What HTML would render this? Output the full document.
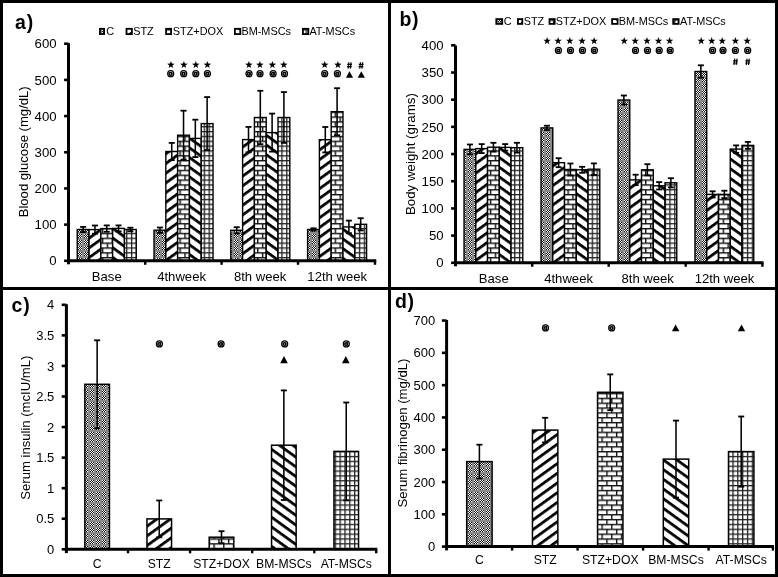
<!DOCTYPE html>
<html><head><meta charset="utf-8"><style>
html,body{margin:0;padding:0;background:#fff;width:778px;height:577px;overflow:hidden;}
svg{display:block;font-family:"Liberation Sans", sans-serif;filter:grayscale(1);}
</style></head><body>
<svg width="778" height="577" viewBox="0 0 778 577" font-family='"Liberation Sans", sans-serif'><defs><pattern id="pC" patternUnits="userSpaceOnUse" width="6" height="6"><rect width="6" height="6" fill="#8a8a8a"/><rect x="0" y="0" width="1" height="1" fill="#fff"/><rect x="1" y="0" width="1" height="1" fill="#111"/><rect x="2" y="0" width="1" height="1" fill="#fff"/><rect x="3" y="0" width="1" height="1" fill="#111"/><rect x="0" y="1" width="1" height="1" fill="#111"/><rect x="1" y="1" width="1" height="1" fill="#fff"/><rect x="2" y="1" width="1" height="1" fill="#111"/><rect x="3" y="1" width="1" height="1" fill="#fff"/><rect x="0" y="2" width="1" height="1" fill="#fff"/><rect x="1" y="2" width="1" height="1" fill="#111"/><rect x="2" y="2" width="1" height="1" fill="#fff"/><rect x="3" y="2" width="1" height="1" fill="#111"/><rect x="0" y="3" width="1" height="1" fill="#111"/><rect x="1" y="3" width="1" height="1" fill="#fff"/><rect x="2" y="3" width="1" height="1" fill="#111"/><rect x="3" y="3" width="1" height="1" fill="#fff"/></pattern><pattern id="pS" patternUnits="userSpaceOnUse" width="20" height="7.87" patternTransform="rotate(-35.75)"><rect width="20" height="7.87" fill="#fff"/><rect y="0" width="20" height="2.76" fill="#000"/></pattern><pattern id="pB" patternUnits="userSpaceOnUse" width="20" height="7.87" patternTransform="rotate(35.75)"><rect width="20" height="7.87" fill="#fff"/><rect y="0" width="20" height="2.76" fill="#000"/></pattern><pattern id="pD" patternUnits="userSpaceOnUse" width="9.7" height="9.7">
<rect width="9.7" height="9.7" fill="#fff"/>
<rect y="0" width="9.7" height="1.4" fill="#111"/>
<rect y="4.85" width="9.7" height="1.4" fill="#111"/>
<rect x="0" y="0" width="1.4" height="4.85" fill="#111"/>
<rect x="4.85" y="4.85" width="1.4" height="4.85" fill="#111"/>
</pattern><pattern id="pA" patternUnits="userSpaceOnUse" width="4.85" height="4.85">
<rect width="4.85" height="4.85" fill="#fff"/>
<rect width="4.85" height="1.3" fill="#222"/>
<rect width="1.3" height="4.85" fill="#222"/>
</pattern></defs><rect x="0" y="0" width="778" height="577" fill="#fff"/>
<line x1="64.1" y1="260.8" x2="68.5" y2="260.8" stroke="#000" stroke-width="2.6"/>
<text x="56.6" y="265.49" font-size="13.2" text-anchor="end" font-weight="normal">0</text>
<line x1="64.1" y1="224.62" x2="68.5" y2="224.62" stroke="#000" stroke-width="2.6"/>
<text x="56.6" y="229.31" font-size="13.2" text-anchor="end" font-weight="normal">100</text>
<line x1="64.1" y1="188.44" x2="68.5" y2="188.44" stroke="#000" stroke-width="2.6"/>
<text x="56.6" y="193.13" font-size="13.2" text-anchor="end" font-weight="normal">200</text>
<line x1="64.1" y1="152.26" x2="68.5" y2="152.26" stroke="#000" stroke-width="2.6"/>
<text x="56.6" y="156.95" font-size="13.2" text-anchor="end" font-weight="normal">300</text>
<line x1="64.1" y1="116.08" x2="68.5" y2="116.08" stroke="#000" stroke-width="2.6"/>
<text x="56.6" y="120.77" font-size="13.2" text-anchor="end" font-weight="normal">400</text>
<line x1="64.1" y1="79.9" x2="68.5" y2="79.9" stroke="#000" stroke-width="2.6"/>
<text x="56.6" y="84.59" font-size="13.2" text-anchor="end" font-weight="normal">500</text>
<line x1="64.1" y1="43.72" x2="68.5" y2="43.72" stroke="#000" stroke-width="2.6"/>
<text x="56.6" y="48.41" font-size="13.2" text-anchor="end" font-weight="normal">600</text>
<rect x="77.25" y="229.5" width="11.8" height="31.3" fill="url(#pC)" stroke="#000" stroke-width="1.4"/>
<rect x="89.05" y="229.6" width="11.8" height="31.2" fill="url(#pS)" stroke="#000" stroke-width="1.4"/>
<rect x="100.85" y="228.6" width="11.8" height="32.2" fill="url(#pD)" stroke="#000" stroke-width="1.4"/>
<rect x="112.65" y="228.4" width="11.8" height="32.4" fill="url(#pB)" stroke="#000" stroke-width="1.4"/>
<rect x="124.45" y="229.5" width="11.8" height="31.3" fill="url(#pA)" stroke="#000" stroke-width="1.4"/>
<line x1="83.15" y1="226.9" x2="83.15" y2="232.1" stroke="#000" stroke-width="1.55"/>
<line x1="80.15" y1="226.9" x2="86.15" y2="226.9" stroke="#000" stroke-width="1.8"/>
<line x1="80.15" y1="232.1" x2="86.15" y2="232.1" stroke="#000" stroke-width="1.8"/>
<line x1="94.95" y1="225.5" x2="94.95" y2="233.7" stroke="#000" stroke-width="1.55"/>
<line x1="91.95" y1="225.5" x2="97.95" y2="225.5" stroke="#000" stroke-width="1.8"/>
<line x1="91.95" y1="233.7" x2="97.95" y2="233.7" stroke="#000" stroke-width="1.8"/>
<line x1="106.75" y1="225.4" x2="106.75" y2="231.8" stroke="#000" stroke-width="1.55"/>
<line x1="103.75" y1="225.4" x2="109.75" y2="225.4" stroke="#000" stroke-width="1.8"/>
<line x1="103.75" y1="231.8" x2="109.75" y2="231.8" stroke="#000" stroke-width="1.8"/>
<line x1="118.55" y1="225.4" x2="118.55" y2="231.4" stroke="#000" stroke-width="1.55"/>
<line x1="115.55" y1="225.4" x2="121.55" y2="225.4" stroke="#000" stroke-width="1.8"/>
<line x1="115.55" y1="231.4" x2="121.55" y2="231.4" stroke="#000" stroke-width="1.8"/>
<line x1="130.35" y1="227.7" x2="130.35" y2="231.3" stroke="#000" stroke-width="1.55"/>
<line x1="127.35" y1="227.7" x2="133.35" y2="227.7" stroke="#000" stroke-width="1.8"/>
<line x1="127.35" y1="231.3" x2="133.35" y2="231.3" stroke="#000" stroke-width="1.8"/>
<rect x="154.03" y="230.2" width="11.8" height="30.6" fill="url(#pC)" stroke="#000" stroke-width="1.4"/>
<rect x="165.83" y="151.5" width="11.8" height="109.3" fill="url(#pS)" stroke="#000" stroke-width="1.4"/>
<rect x="177.63" y="135.2" width="11.8" height="125.6" fill="url(#pD)" stroke="#000" stroke-width="1.4"/>
<rect x="189.43" y="138.4" width="11.8" height="122.4" fill="url(#pB)" stroke="#000" stroke-width="1.4"/>
<rect x="201.23" y="123.6" width="11.8" height="137.2" fill="url(#pA)" stroke="#000" stroke-width="1.4"/>
<line x1="159.93" y1="227.5" x2="159.93" y2="232.9" stroke="#000" stroke-width="1.55"/>
<line x1="156.93" y1="227.5" x2="162.93" y2="227.5" stroke="#000" stroke-width="1.8"/>
<line x1="156.93" y1="232.9" x2="162.93" y2="232.9" stroke="#000" stroke-width="1.8"/>
<line x1="171.73" y1="142.9" x2="171.73" y2="160.1" stroke="#000" stroke-width="1.55"/>
<line x1="168.73" y1="142.9" x2="174.73" y2="142.9" stroke="#000" stroke-width="1.8"/>
<line x1="168.73" y1="160.1" x2="174.73" y2="160.1" stroke="#000" stroke-width="1.8"/>
<line x1="183.53" y1="110.7" x2="183.53" y2="159.7" stroke="#000" stroke-width="1.55"/>
<line x1="180.53" y1="110.7" x2="186.53" y2="110.7" stroke="#000" stroke-width="1.8"/>
<line x1="180.53" y1="159.7" x2="186.53" y2="159.7" stroke="#000" stroke-width="1.8"/>
<line x1="195.33" y1="119.7" x2="195.33" y2="157.1" stroke="#000" stroke-width="1.55"/>
<line x1="192.33" y1="119.7" x2="198.33" y2="119.7" stroke="#000" stroke-width="1.8"/>
<line x1="192.33" y1="157.1" x2="198.33" y2="157.1" stroke="#000" stroke-width="1.8"/>
<line x1="207.13" y1="97.1" x2="207.13" y2="150.1" stroke="#000" stroke-width="1.55"/>
<line x1="204.13" y1="97.1" x2="210.13" y2="97.1" stroke="#000" stroke-width="1.8"/>
<line x1="204.13" y1="150.1" x2="210.13" y2="150.1" stroke="#000" stroke-width="1.8"/>
<rect x="230.81" y="230.3" width="11.8" height="30.5" fill="url(#pC)" stroke="#000" stroke-width="1.4"/>
<rect x="242.61" y="139.6" width="11.8" height="121.2" fill="url(#pS)" stroke="#000" stroke-width="1.4"/>
<rect x="254.41" y="117.5" width="11.8" height="143.3" fill="url(#pD)" stroke="#000" stroke-width="1.4"/>
<rect x="266.21" y="132.6" width="11.8" height="128.2" fill="url(#pB)" stroke="#000" stroke-width="1.4"/>
<rect x="278.01" y="117.5" width="11.8" height="143.3" fill="url(#pA)" stroke="#000" stroke-width="1.4"/>
<line x1="236.71" y1="227.2" x2="236.71" y2="233.4" stroke="#000" stroke-width="1.55"/>
<line x1="233.71" y1="227.2" x2="239.71" y2="227.2" stroke="#000" stroke-width="1.8"/>
<line x1="233.71" y1="233.4" x2="239.71" y2="233.4" stroke="#000" stroke-width="1.8"/>
<line x1="248.51" y1="126.9" x2="248.51" y2="152.3" stroke="#000" stroke-width="1.55"/>
<line x1="245.51" y1="126.9" x2="251.51" y2="126.9" stroke="#000" stroke-width="1.8"/>
<line x1="245.51" y1="152.3" x2="251.51" y2="152.3" stroke="#000" stroke-width="1.8"/>
<line x1="260.31" y1="90.8" x2="260.31" y2="144.2" stroke="#000" stroke-width="1.55"/>
<line x1="257.31" y1="90.8" x2="263.31" y2="90.8" stroke="#000" stroke-width="1.8"/>
<line x1="257.31" y1="144.2" x2="263.31" y2="144.2" stroke="#000" stroke-width="1.8"/>
<line x1="272.11" y1="113.6" x2="272.11" y2="151.6" stroke="#000" stroke-width="1.55"/>
<line x1="269.11" y1="113.6" x2="275.11" y2="113.6" stroke="#000" stroke-width="1.8"/>
<line x1="269.11" y1="151.6" x2="275.11" y2="151.6" stroke="#000" stroke-width="1.8"/>
<line x1="283.91" y1="92.1" x2="283.91" y2="142.9" stroke="#000" stroke-width="1.55"/>
<line x1="280.91" y1="92.1" x2="286.91" y2="92.1" stroke="#000" stroke-width="1.8"/>
<line x1="280.91" y1="142.9" x2="286.91" y2="142.9" stroke="#000" stroke-width="1.8"/>
<rect x="307.59" y="229.5" width="11.8" height="31.3" fill="url(#pC)" stroke="#000" stroke-width="1.4"/>
<rect x="319.39" y="139.7" width="11.8" height="121.1" fill="url(#pS)" stroke="#000" stroke-width="1.4"/>
<rect x="331.19" y="111.7" width="11.8" height="149.1" fill="url(#pD)" stroke="#000" stroke-width="1.4"/>
<rect x="342.99" y="226.9" width="11.8" height="33.9" fill="url(#pB)" stroke="#000" stroke-width="1.4"/>
<rect x="354.79" y="224.3" width="11.8" height="36.5" fill="url(#pA)" stroke="#000" stroke-width="1.4"/>
<line x1="313.49" y1="228.3" x2="313.49" y2="230.7" stroke="#000" stroke-width="1.55"/>
<line x1="310.49" y1="228.3" x2="316.49" y2="228.3" stroke="#000" stroke-width="1.8"/>
<line x1="310.49" y1="230.7" x2="316.49" y2="230.7" stroke="#000" stroke-width="1.8"/>
<line x1="325.29" y1="127" x2="325.29" y2="152.4" stroke="#000" stroke-width="1.55"/>
<line x1="322.29" y1="127" x2="328.29" y2="127" stroke="#000" stroke-width="1.8"/>
<line x1="322.29" y1="152.4" x2="328.29" y2="152.4" stroke="#000" stroke-width="1.8"/>
<line x1="337.09" y1="88.2" x2="337.09" y2="135.2" stroke="#000" stroke-width="1.55"/>
<line x1="334.09" y1="88.2" x2="340.09" y2="88.2" stroke="#000" stroke-width="1.8"/>
<line x1="334.09" y1="135.2" x2="340.09" y2="135.2" stroke="#000" stroke-width="1.8"/>
<line x1="348.89" y1="220.6" x2="348.89" y2="233.2" stroke="#000" stroke-width="1.55"/>
<line x1="345.89" y1="220.6" x2="351.89" y2="220.6" stroke="#000" stroke-width="1.8"/>
<line x1="345.89" y1="233.2" x2="351.89" y2="233.2" stroke="#000" stroke-width="1.8"/>
<line x1="360.69" y1="218.2" x2="360.69" y2="230.4" stroke="#000" stroke-width="1.55"/>
<line x1="357.69" y1="218.2" x2="363.69" y2="218.2" stroke="#000" stroke-width="1.8"/>
<line x1="357.69" y1="230.4" x2="363.69" y2="230.4" stroke="#000" stroke-width="1.8"/>
<line x1="68.5" y1="43.2" x2="68.5" y2="264.3" stroke="#000" stroke-width="3"/>
<line x1="67" y1="260.8" x2="376.3" y2="260.8" stroke="#000" stroke-width="3"/>
<line x1="145.2" y1="260.8" x2="145.2" y2="264.8" stroke="#000" stroke-width="2.4"/>
<line x1="221.6" y1="260.8" x2="221.6" y2="264.8" stroke="#000" stroke-width="2.4"/>
<line x1="298" y1="260.8" x2="298" y2="264.8" stroke="#000" stroke-width="2.4"/>
<line x1="375" y1="260.8" x2="375" y2="264.8" stroke="#000" stroke-width="2.4"/>
<text x="106.8" y="280.9" font-size="13.1" text-anchor="middle" font-weight="normal">Base</text>
<text x="181.6" y="280.9" font-size="13.1" text-anchor="middle" font-weight="normal">4thweek</text>
<text x="260.1" y="280.9" font-size="13.1" text-anchor="middle" font-weight="normal">8th week</text>
<text x="337.2" y="280.9" font-size="13.1" text-anchor="middle" font-weight="normal">12th week</text>
<line x1="451.1" y1="262.8" x2="455.5" y2="262.8" stroke="#000" stroke-width="2.6"/>
<text x="443.6" y="267.49" font-size="13.2" text-anchor="end" font-weight="normal">0</text>
<line x1="451.1" y1="235.62" x2="455.5" y2="235.62" stroke="#000" stroke-width="2.6"/>
<text x="443.6" y="240.3" font-size="13.2" text-anchor="end" font-weight="normal">50</text>
<line x1="451.1" y1="208.43" x2="455.5" y2="208.43" stroke="#000" stroke-width="2.6"/>
<text x="443.6" y="213.12" font-size="13.2" text-anchor="end" font-weight="normal">100</text>
<line x1="451.1" y1="181.25" x2="455.5" y2="181.25" stroke="#000" stroke-width="2.6"/>
<text x="443.6" y="185.93" font-size="13.2" text-anchor="end" font-weight="normal">150</text>
<line x1="451.1" y1="154.06" x2="455.5" y2="154.06" stroke="#000" stroke-width="2.6"/>
<text x="443.6" y="158.75" font-size="13.2" text-anchor="end" font-weight="normal">200</text>
<line x1="451.1" y1="126.88" x2="455.5" y2="126.88" stroke="#000" stroke-width="2.6"/>
<text x="443.6" y="131.56" font-size="13.2" text-anchor="end" font-weight="normal">250</text>
<line x1="451.1" y1="99.69" x2="455.5" y2="99.69" stroke="#000" stroke-width="2.6"/>
<text x="443.6" y="104.38" font-size="13.2" text-anchor="end" font-weight="normal">300</text>
<line x1="451.1" y1="72.51" x2="455.5" y2="72.51" stroke="#000" stroke-width="2.6"/>
<text x="443.6" y="77.19" font-size="13.2" text-anchor="end" font-weight="normal">350</text>
<line x1="451.1" y1="45.32" x2="455.5" y2="45.32" stroke="#000" stroke-width="2.6"/>
<text x="443.6" y="50.01" font-size="13.2" text-anchor="end" font-weight="normal">400</text>
<rect x="464.05" y="149.4" width="11.75" height="113.4" fill="url(#pC)" stroke="#000" stroke-width="1.4"/>
<rect x="475.8" y="148.6" width="11.75" height="114.2" fill="url(#pS)" stroke="#000" stroke-width="1.4"/>
<rect x="487.55" y="147.2" width="11.75" height="115.6" fill="url(#pD)" stroke="#000" stroke-width="1.4"/>
<rect x="499.3" y="147.4" width="11.75" height="115.4" fill="url(#pB)" stroke="#000" stroke-width="1.4"/>
<rect x="511.05" y="147.7" width="11.75" height="115.1" fill="url(#pA)" stroke="#000" stroke-width="1.4"/>
<line x1="469.93" y1="144.5" x2="469.93" y2="154.3" stroke="#000" stroke-width="1.55"/>
<line x1="466.93" y1="144.5" x2="472.93" y2="144.5" stroke="#000" stroke-width="1.8"/>
<line x1="466.93" y1="154.3" x2="472.93" y2="154.3" stroke="#000" stroke-width="1.8"/>
<line x1="481.68" y1="144.1" x2="481.68" y2="153.1" stroke="#000" stroke-width="1.55"/>
<line x1="478.68" y1="144.1" x2="484.68" y2="144.1" stroke="#000" stroke-width="1.8"/>
<line x1="478.68" y1="153.1" x2="484.68" y2="153.1" stroke="#000" stroke-width="1.8"/>
<line x1="493.43" y1="142.8" x2="493.43" y2="151.6" stroke="#000" stroke-width="1.55"/>
<line x1="490.43" y1="142.8" x2="496.43" y2="142.8" stroke="#000" stroke-width="1.8"/>
<line x1="490.43" y1="151.6" x2="496.43" y2="151.6" stroke="#000" stroke-width="1.8"/>
<line x1="505.18" y1="144.1" x2="505.18" y2="150.7" stroke="#000" stroke-width="1.55"/>
<line x1="502.18" y1="144.1" x2="508.18" y2="144.1" stroke="#000" stroke-width="1.8"/>
<line x1="502.18" y1="150.7" x2="508.18" y2="150.7" stroke="#000" stroke-width="1.8"/>
<line x1="516.92" y1="142.8" x2="516.92" y2="152.6" stroke="#000" stroke-width="1.55"/>
<line x1="513.92" y1="142.8" x2="519.92" y2="142.8" stroke="#000" stroke-width="1.8"/>
<line x1="513.92" y1="152.6" x2="519.92" y2="152.6" stroke="#000" stroke-width="1.8"/>
<rect x="541.03" y="127.9" width="11.75" height="134.9" fill="url(#pC)" stroke="#000" stroke-width="1.4"/>
<rect x="552.78" y="162.7" width="11.75" height="100.1" fill="url(#pS)" stroke="#000" stroke-width="1.4"/>
<rect x="564.53" y="169.5" width="11.75" height="93.3" fill="url(#pD)" stroke="#000" stroke-width="1.4"/>
<rect x="576.28" y="169.8" width="11.75" height="93" fill="url(#pB)" stroke="#000" stroke-width="1.4"/>
<rect x="588.03" y="169.2" width="11.75" height="93.6" fill="url(#pA)" stroke="#000" stroke-width="1.4"/>
<line x1="546.9" y1="125.7" x2="546.9" y2="130.1" stroke="#000" stroke-width="1.55"/>
<line x1="543.9" y1="125.7" x2="549.9" y2="125.7" stroke="#000" stroke-width="1.8"/>
<line x1="543.9" y1="130.1" x2="549.9" y2="130.1" stroke="#000" stroke-width="1.8"/>
<line x1="558.65" y1="158.2" x2="558.65" y2="167.2" stroke="#000" stroke-width="1.55"/>
<line x1="555.65" y1="158.2" x2="561.65" y2="158.2" stroke="#000" stroke-width="1.8"/>
<line x1="555.65" y1="167.2" x2="561.65" y2="167.2" stroke="#000" stroke-width="1.8"/>
<line x1="570.4" y1="163.5" x2="570.4" y2="175.5" stroke="#000" stroke-width="1.55"/>
<line x1="567.4" y1="163.5" x2="573.4" y2="163.5" stroke="#000" stroke-width="1.8"/>
<line x1="567.4" y1="175.5" x2="573.4" y2="175.5" stroke="#000" stroke-width="1.8"/>
<line x1="582.15" y1="166.8" x2="582.15" y2="172.8" stroke="#000" stroke-width="1.55"/>
<line x1="579.15" y1="166.8" x2="585.15" y2="166.8" stroke="#000" stroke-width="1.8"/>
<line x1="579.15" y1="172.8" x2="585.15" y2="172.8" stroke="#000" stroke-width="1.8"/>
<line x1="593.9" y1="163.4" x2="593.9" y2="175" stroke="#000" stroke-width="1.55"/>
<line x1="590.9" y1="163.4" x2="596.9" y2="163.4" stroke="#000" stroke-width="1.8"/>
<line x1="590.9" y1="175" x2="596.9" y2="175" stroke="#000" stroke-width="1.8"/>
<rect x="618.01" y="100" width="11.75" height="162.8" fill="url(#pC)" stroke="#000" stroke-width="1.4"/>
<rect x="629.76" y="179.9" width="11.75" height="82.9" fill="url(#pS)" stroke="#000" stroke-width="1.4"/>
<rect x="641.51" y="169.8" width="11.75" height="93" fill="url(#pD)" stroke="#000" stroke-width="1.4"/>
<rect x="653.26" y="185.8" width="11.75" height="77" fill="url(#pB)" stroke="#000" stroke-width="1.4"/>
<rect x="665.01" y="182.8" width="11.75" height="80" fill="url(#pA)" stroke="#000" stroke-width="1.4"/>
<line x1="623.88" y1="95.5" x2="623.88" y2="104.5" stroke="#000" stroke-width="1.55"/>
<line x1="620.88" y1="95.5" x2="626.88" y2="95.5" stroke="#000" stroke-width="1.8"/>
<line x1="620.88" y1="104.5" x2="626.88" y2="104.5" stroke="#000" stroke-width="1.8"/>
<line x1="635.63" y1="174.7" x2="635.63" y2="185.1" stroke="#000" stroke-width="1.55"/>
<line x1="632.63" y1="174.7" x2="638.63" y2="174.7" stroke="#000" stroke-width="1.8"/>
<line x1="632.63" y1="185.1" x2="638.63" y2="185.1" stroke="#000" stroke-width="1.8"/>
<line x1="647.38" y1="164.2" x2="647.38" y2="175.4" stroke="#000" stroke-width="1.55"/>
<line x1="644.38" y1="164.2" x2="650.38" y2="164.2" stroke="#000" stroke-width="1.8"/>
<line x1="644.38" y1="175.4" x2="650.38" y2="175.4" stroke="#000" stroke-width="1.8"/>
<line x1="659.13" y1="182.1" x2="659.13" y2="189.5" stroke="#000" stroke-width="1.55"/>
<line x1="656.13" y1="182.1" x2="662.13" y2="182.1" stroke="#000" stroke-width="1.8"/>
<line x1="656.13" y1="189.5" x2="662.13" y2="189.5" stroke="#000" stroke-width="1.8"/>
<line x1="670.88" y1="178.2" x2="670.88" y2="187.4" stroke="#000" stroke-width="1.55"/>
<line x1="667.88" y1="178.2" x2="673.88" y2="178.2" stroke="#000" stroke-width="1.8"/>
<line x1="667.88" y1="187.4" x2="673.88" y2="187.4" stroke="#000" stroke-width="1.8"/>
<rect x="694.99" y="71.5" width="11.75" height="191.3" fill="url(#pC)" stroke="#000" stroke-width="1.4"/>
<rect x="706.74" y="194.4" width="11.75" height="68.4" fill="url(#pS)" stroke="#000" stroke-width="1.4"/>
<rect x="718.49" y="194.4" width="11.75" height="68.4" fill="url(#pD)" stroke="#000" stroke-width="1.4"/>
<rect x="730.24" y="149.1" width="11.75" height="113.7" fill="url(#pB)" stroke="#000" stroke-width="1.4"/>
<rect x="741.99" y="145.4" width="11.75" height="117.4" fill="url(#pA)" stroke="#000" stroke-width="1.4"/>
<line x1="700.87" y1="65.3" x2="700.87" y2="77.7" stroke="#000" stroke-width="1.55"/>
<line x1="697.87" y1="65.3" x2="703.87" y2="65.3" stroke="#000" stroke-width="1.8"/>
<line x1="697.87" y1="77.7" x2="703.87" y2="77.7" stroke="#000" stroke-width="1.8"/>
<line x1="712.62" y1="191.3" x2="712.62" y2="197.5" stroke="#000" stroke-width="1.55"/>
<line x1="709.62" y1="191.3" x2="715.62" y2="191.3" stroke="#000" stroke-width="1.8"/>
<line x1="709.62" y1="197.5" x2="715.62" y2="197.5" stroke="#000" stroke-width="1.8"/>
<line x1="724.37" y1="190.7" x2="724.37" y2="198.1" stroke="#000" stroke-width="1.55"/>
<line x1="721.37" y1="190.7" x2="727.37" y2="190.7" stroke="#000" stroke-width="1.8"/>
<line x1="721.37" y1="198.1" x2="727.37" y2="198.1" stroke="#000" stroke-width="1.8"/>
<line x1="736.12" y1="145.4" x2="736.12" y2="152.8" stroke="#000" stroke-width="1.55"/>
<line x1="733.12" y1="145.4" x2="739.12" y2="145.4" stroke="#000" stroke-width="1.8"/>
<line x1="733.12" y1="152.8" x2="739.12" y2="152.8" stroke="#000" stroke-width="1.8"/>
<line x1="747.87" y1="141.9" x2="747.87" y2="148.9" stroke="#000" stroke-width="1.55"/>
<line x1="744.87" y1="141.9" x2="750.87" y2="141.9" stroke="#000" stroke-width="1.8"/>
<line x1="744.87" y1="148.9" x2="750.87" y2="148.9" stroke="#000" stroke-width="1.8"/>
<line x1="455.5" y1="45.5" x2="455.5" y2="266.3" stroke="#000" stroke-width="3"/>
<line x1="454" y1="262.8" x2="763.5" y2="262.8" stroke="#000" stroke-width="3"/>
<line x1="532.2" y1="262.8" x2="532.2" y2="266.8" stroke="#000" stroke-width="2.4"/>
<line x1="608.7" y1="262.8" x2="608.7" y2="266.8" stroke="#000" stroke-width="2.4"/>
<line x1="685.7" y1="262.8" x2="685.7" y2="266.8" stroke="#000" stroke-width="2.4"/>
<line x1="762.4" y1="262.8" x2="762.4" y2="266.8" stroke="#000" stroke-width="2.4"/>
<text x="493.8" y="282.7" font-size="13.1" text-anchor="middle" font-weight="normal">Base</text>
<text x="568.6" y="282.7" font-size="13.1" text-anchor="middle" font-weight="normal">4thweek</text>
<text x="647.7" y="282.7" font-size="13.1" text-anchor="middle" font-weight="normal">8th week</text>
<text x="724.5" y="282.7" font-size="13.1" text-anchor="middle" font-weight="normal">12th week</text>
<line x1="61.7" y1="549.3" x2="66.4" y2="549.3" stroke="#000" stroke-width="2.6"/>
<text x="54.3" y="553.91" font-size="13" text-anchor="end" font-weight="normal">0</text>
<line x1="61.7" y1="518.74" x2="66.4" y2="518.74" stroke="#000" stroke-width="2.6"/>
<text x="54.3" y="523.36" font-size="13" text-anchor="end" font-weight="normal">0.5</text>
<line x1="61.7" y1="488.18" x2="66.4" y2="488.18" stroke="#000" stroke-width="2.6"/>
<text x="54.3" y="492.79" font-size="13" text-anchor="end" font-weight="normal">1</text>
<line x1="61.7" y1="457.62" x2="66.4" y2="457.62" stroke="#000" stroke-width="2.6"/>
<text x="54.3" y="462.23" font-size="13" text-anchor="end" font-weight="normal">1.5</text>
<line x1="61.7" y1="427.06" x2="66.4" y2="427.06" stroke="#000" stroke-width="2.6"/>
<text x="54.3" y="431.67" font-size="13" text-anchor="end" font-weight="normal">2</text>
<line x1="61.7" y1="396.5" x2="66.4" y2="396.5" stroke="#000" stroke-width="2.6"/>
<text x="54.3" y="401.12" font-size="13" text-anchor="end" font-weight="normal">2.5</text>
<line x1="61.7" y1="365.94" x2="66.4" y2="365.94" stroke="#000" stroke-width="2.6"/>
<text x="54.3" y="370.55" font-size="13" text-anchor="end" font-weight="normal">3</text>
<line x1="61.7" y1="335.38" x2="66.4" y2="335.38" stroke="#000" stroke-width="2.6"/>
<text x="54.3" y="340" font-size="13" text-anchor="end" font-weight="normal">3.5</text>
<line x1="61.7" y1="304.82" x2="66.4" y2="304.82" stroke="#000" stroke-width="2.6"/>
<text x="54.3" y="309.43" font-size="13" text-anchor="end" font-weight="normal">4</text>
<rect x="84.85" y="384.3" width="24.6" height="165" fill="url(#pC)" stroke="#000" stroke-width="1.5"/>
<rect x="146.95" y="518.9" width="24.6" height="30.4" fill="url(#pS)" stroke="#000" stroke-width="1.5"/>
<rect x="209.2" y="537.2" width="24.6" height="12.1" fill="url(#pD)" stroke="#000" stroke-width="1.5"/>
<rect x="271.55" y="445.2" width="24.6" height="104.1" fill="url(#pB)" stroke="#000" stroke-width="1.5"/>
<rect x="333.95" y="451.4" width="24.6" height="97.9" fill="url(#pA)" stroke="#000" stroke-width="1.5"/>
<line x1="97.15" y1="340.3" x2="97.15" y2="428.3" stroke="#000" stroke-width="1.55"/>
<line x1="94.15" y1="340.3" x2="100.15" y2="340.3" stroke="#000" stroke-width="1.8"/>
<line x1="94.15" y1="428.3" x2="100.15" y2="428.3" stroke="#000" stroke-width="1.8"/>
<line x1="159.25" y1="500.5" x2="159.25" y2="537.3" stroke="#000" stroke-width="1.55"/>
<line x1="156.25" y1="500.5" x2="162.25" y2="500.5" stroke="#000" stroke-width="1.8"/>
<line x1="156.25" y1="537.3" x2="162.25" y2="537.3" stroke="#000" stroke-width="1.8"/>
<line x1="221.5" y1="531.2" x2="221.5" y2="543.2" stroke="#000" stroke-width="1.55"/>
<line x1="218.5" y1="531.2" x2="224.5" y2="531.2" stroke="#000" stroke-width="1.8"/>
<line x1="218.5" y1="543.2" x2="224.5" y2="543.2" stroke="#000" stroke-width="1.8"/>
<line x1="283.85" y1="390.4" x2="283.85" y2="500" stroke="#000" stroke-width="1.55"/>
<line x1="280.85" y1="390.4" x2="286.85" y2="390.4" stroke="#000" stroke-width="1.8"/>
<line x1="280.85" y1="500" x2="286.85" y2="500" stroke="#000" stroke-width="1.8"/>
<line x1="346.25" y1="402.5" x2="346.25" y2="500.3" stroke="#000" stroke-width="1.55"/>
<line x1="343.25" y1="402.5" x2="349.25" y2="402.5" stroke="#000" stroke-width="1.8"/>
<line x1="343.25" y1="500.3" x2="349.25" y2="500.3" stroke="#000" stroke-width="1.8"/>
<line x1="66.4" y1="304.2" x2="66.4" y2="553.1" stroke="#000" stroke-width="3"/>
<line x1="64.9" y1="549.3" x2="377.3" y2="549.3" stroke="#000" stroke-width="3"/>
<line x1="128" y1="549.3" x2="128" y2="553.3" stroke="#000" stroke-width="2.4"/>
<line x1="190.1" y1="549.3" x2="190.1" y2="553.3" stroke="#000" stroke-width="2.4"/>
<line x1="252.2" y1="549.3" x2="252.2" y2="553.3" stroke="#000" stroke-width="2.4"/>
<line x1="314.3" y1="549.3" x2="314.3" y2="553.3" stroke="#000" stroke-width="2.4"/>
<line x1="376.2" y1="549.3" x2="376.2" y2="553.3" stroke="#000" stroke-width="2.4"/>
<text x="97.15" y="568.4" font-size="12.2" text-anchor="middle" font-weight="normal">C</text>
<text x="159.25" y="568.4" font-size="12.2" text-anchor="middle" font-weight="normal">STZ</text>
<text x="221.5" y="568.4" font-size="12.2" text-anchor="middle" font-weight="normal">STZ+DOX</text>
<text x="283.85" y="568.4" font-size="12.2" text-anchor="middle" font-weight="normal">BM-MSCs</text>
<text x="346.25" y="568.4" font-size="12.2" text-anchor="middle" font-weight="normal">AT-MSCs</text>
<line x1="441.9" y1="546.6" x2="446.6" y2="546.6" stroke="#000" stroke-width="2.6"/>
<text x="435.2" y="551.22" font-size="13" text-anchor="end" font-weight="normal">0</text>
<line x1="441.9" y1="514.31" x2="446.6" y2="514.31" stroke="#000" stroke-width="2.6"/>
<text x="435.2" y="518.93" font-size="13" text-anchor="end" font-weight="normal">100</text>
<line x1="441.9" y1="482.02" x2="446.6" y2="482.02" stroke="#000" stroke-width="2.6"/>
<text x="435.2" y="486.64" font-size="13" text-anchor="end" font-weight="normal">200</text>
<line x1="441.9" y1="449.73" x2="446.6" y2="449.73" stroke="#000" stroke-width="2.6"/>
<text x="435.2" y="454.35" font-size="13" text-anchor="end" font-weight="normal">300</text>
<line x1="441.9" y1="417.44" x2="446.6" y2="417.44" stroke="#000" stroke-width="2.6"/>
<text x="435.2" y="422.06" font-size="13" text-anchor="end" font-weight="normal">400</text>
<line x1="441.9" y1="385.15" x2="446.6" y2="385.15" stroke="#000" stroke-width="2.6"/>
<text x="435.2" y="389.76" font-size="13" text-anchor="end" font-weight="normal">500</text>
<line x1="441.9" y1="352.86" x2="446.6" y2="352.86" stroke="#000" stroke-width="2.6"/>
<text x="435.2" y="357.48" font-size="13" text-anchor="end" font-weight="normal">600</text>
<line x1="441.9" y1="320.57" x2="446.6" y2="320.57" stroke="#000" stroke-width="2.6"/>
<text x="435.2" y="325.19" font-size="13" text-anchor="end" font-weight="normal">700</text>
<rect x="466.7" y="461.6" width="25.4" height="85" fill="url(#pC)" stroke="#000" stroke-width="1.5"/>
<rect x="532.45" y="430.1" width="25.4" height="116.5" fill="url(#pS)" stroke="#000" stroke-width="1.5"/>
<rect x="597.55" y="392.3" width="25.4" height="154.3" fill="url(#pD)" stroke="#000" stroke-width="1.5"/>
<rect x="663.3" y="459.1" width="25.4" height="87.5" fill="url(#pB)" stroke="#000" stroke-width="1.5"/>
<rect x="728.5" y="451.6" width="25.4" height="95" fill="url(#pA)" stroke="#000" stroke-width="1.5"/>
<line x1="479.4" y1="444.7" x2="479.4" y2="478.5" stroke="#000" stroke-width="1.55"/>
<line x1="476.4" y1="444.7" x2="482.4" y2="444.7" stroke="#000" stroke-width="1.8"/>
<line x1="476.4" y1="478.5" x2="482.4" y2="478.5" stroke="#000" stroke-width="1.8"/>
<line x1="545.15" y1="417.8" x2="545.15" y2="442.4" stroke="#000" stroke-width="1.55"/>
<line x1="542.15" y1="417.8" x2="548.15" y2="417.8" stroke="#000" stroke-width="1.8"/>
<line x1="542.15" y1="442.4" x2="548.15" y2="442.4" stroke="#000" stroke-width="1.8"/>
<line x1="610.25" y1="374.4" x2="610.25" y2="410.2" stroke="#000" stroke-width="1.55"/>
<line x1="607.25" y1="374.4" x2="613.25" y2="374.4" stroke="#000" stroke-width="1.8"/>
<line x1="607.25" y1="410.2" x2="613.25" y2="410.2" stroke="#000" stroke-width="1.8"/>
<line x1="676" y1="420.6" x2="676" y2="497.6" stroke="#000" stroke-width="1.55"/>
<line x1="673" y1="420.6" x2="679" y2="420.6" stroke="#000" stroke-width="1.8"/>
<line x1="673" y1="497.6" x2="679" y2="497.6" stroke="#000" stroke-width="1.8"/>
<line x1="741.2" y1="416.5" x2="741.2" y2="486.7" stroke="#000" stroke-width="1.55"/>
<line x1="738.2" y1="416.5" x2="744.2" y2="416.5" stroke="#000" stroke-width="1.8"/>
<line x1="738.2" y1="486.7" x2="744.2" y2="486.7" stroke="#000" stroke-width="1.8"/>
<line x1="446.6" y1="320" x2="446.6" y2="550.4" stroke="#000" stroke-width="3"/>
<line x1="445.1" y1="546.6" x2="774" y2="546.6" stroke="#000" stroke-width="3"/>
<line x1="512.1" y1="546.6" x2="512.1" y2="550.6" stroke="#000" stroke-width="2.4"/>
<line x1="577.6" y1="546.6" x2="577.6" y2="550.6" stroke="#000" stroke-width="2.4"/>
<line x1="643.1" y1="546.6" x2="643.1" y2="550.6" stroke="#000" stroke-width="2.4"/>
<line x1="708.6" y1="546.6" x2="708.6" y2="550.6" stroke="#000" stroke-width="2.4"/>
<line x1="772.9" y1="546.6" x2="772.9" y2="550.6" stroke="#000" stroke-width="2.4"/>
<text x="479.4" y="564.3" font-size="12.2" text-anchor="middle" font-weight="normal">C</text>
<text x="545.15" y="564.3" font-size="12.2" text-anchor="middle" font-weight="normal">STZ</text>
<text x="610.25" y="564.3" font-size="12.2" text-anchor="middle" font-weight="normal">STZ+DOX</text>
<text x="676" y="564.3" font-size="12.2" text-anchor="middle" font-weight="normal">BM-MSCs</text>
<text x="741.2" y="564.3" font-size="12.2" text-anchor="middle" font-weight="normal">AT-MSCs</text>
<polygon points="170.9,61 171.84,63.61 174.61,63.69 172.42,65.39 173.19,68.06 170.9,66.5 168.61,68.06 169.38,65.39 167.19,63.69 169.96,63.61" fill="#000"/>
<polygon points="183.9,61 184.84,63.61 187.61,63.69 185.42,65.39 186.19,68.06 183.9,66.5 181.61,68.06 182.38,65.39 180.19,63.69 182.96,63.61" fill="#000"/>
<polygon points="195.8,61 196.74,63.61 199.51,63.69 197.32,65.39 198.09,68.06 195.8,66.5 193.51,68.06 194.28,65.39 192.09,63.69 194.86,63.61" fill="#000"/>
<polygon points="207.4,61 208.34,63.61 211.11,63.69 208.92,65.39 209.69,68.06 207.4,66.5 205.11,68.06 205.88,65.39 203.69,63.69 206.46,63.61" fill="#000"/>
<polygon points="248.9,61 249.84,63.61 252.61,63.69 250.42,65.39 251.19,68.06 248.9,66.5 246.61,68.06 247.38,65.39 245.19,63.69 247.96,63.61" fill="#000"/>
<polygon points="259.9,61 260.84,63.61 263.61,63.69 261.42,65.39 262.19,68.06 259.9,66.5 257.61,68.06 258.38,65.39 256.19,63.69 258.96,63.61" fill="#000"/>
<polygon points="272.4,61 273.34,63.61 276.11,63.69 273.92,65.39 274.69,68.06 272.4,66.5 270.11,68.06 270.88,65.39 268.69,63.69 271.46,63.61" fill="#000"/>
<polygon points="283.8,61 284.74,63.61 287.51,63.69 285.32,65.39 286.09,68.06 283.8,66.5 281.51,68.06 282.28,65.39 280.09,63.69 282.86,63.61" fill="#000"/>
<polygon points="324.7,61 325.64,63.61 328.41,63.69 326.22,65.39 326.99,68.06 324.7,66.5 322.41,68.06 323.18,65.39 320.99,63.69 323.76,63.61" fill="#000"/>
<polygon points="337.9,61 338.84,63.61 341.61,63.69 339.42,65.39 340.19,68.06 337.9,66.5 335.61,68.06 336.38,65.39 334.19,63.69 336.96,63.61" fill="#000"/>
<circle cx="170.7" cy="73.7" r="3.0" fill="none" stroke="#000" stroke-width="1.25"/>
<circle cx="170.5" cy="73.8" r="1.35" fill="none" stroke="#000" stroke-width="1.5"/>
<line x1="171.9" y1="72.1" x2="171.7" y2="75.5" stroke="#000" stroke-width="1.1"/>
<circle cx="183.7" cy="73.7" r="3.0" fill="none" stroke="#000" stroke-width="1.25"/>
<circle cx="183.5" cy="73.8" r="1.35" fill="none" stroke="#000" stroke-width="1.5"/>
<line x1="184.9" y1="72.1" x2="184.7" y2="75.5" stroke="#000" stroke-width="1.1"/>
<circle cx="195.8" cy="73.7" r="3.0" fill="none" stroke="#000" stroke-width="1.25"/>
<circle cx="195.6" cy="73.8" r="1.35" fill="none" stroke="#000" stroke-width="1.5"/>
<line x1="197" y1="72.1" x2="196.8" y2="75.5" stroke="#000" stroke-width="1.1"/>
<circle cx="207.4" cy="73.7" r="3.0" fill="none" stroke="#000" stroke-width="1.25"/>
<circle cx="207.2" cy="73.8" r="1.35" fill="none" stroke="#000" stroke-width="1.5"/>
<line x1="208.6" y1="72.1" x2="208.4" y2="75.5" stroke="#000" stroke-width="1.1"/>
<circle cx="249" cy="73.7" r="3.0" fill="none" stroke="#000" stroke-width="1.25"/>
<circle cx="248.8" cy="73.8" r="1.35" fill="none" stroke="#000" stroke-width="1.5"/>
<line x1="250.2" y1="72.1" x2="250" y2="75.5" stroke="#000" stroke-width="1.1"/>
<circle cx="260" cy="73.7" r="3.0" fill="none" stroke="#000" stroke-width="1.25"/>
<circle cx="259.8" cy="73.8" r="1.35" fill="none" stroke="#000" stroke-width="1.5"/>
<line x1="261.2" y1="72.1" x2="261" y2="75.5" stroke="#000" stroke-width="1.1"/>
<circle cx="273.1" cy="73.7" r="3.0" fill="none" stroke="#000" stroke-width="1.25"/>
<circle cx="272.9" cy="73.8" r="1.35" fill="none" stroke="#000" stroke-width="1.5"/>
<line x1="274.3" y1="72.1" x2="274.1" y2="75.5" stroke="#000" stroke-width="1.1"/>
<circle cx="284.5" cy="73.7" r="3.0" fill="none" stroke="#000" stroke-width="1.25"/>
<circle cx="284.3" cy="73.8" r="1.35" fill="none" stroke="#000" stroke-width="1.5"/>
<line x1="285.7" y1="72.1" x2="285.5" y2="75.5" stroke="#000" stroke-width="1.1"/>
<circle cx="324.7" cy="73.7" r="3.0" fill="none" stroke="#000" stroke-width="1.25"/>
<circle cx="324.5" cy="73.8" r="1.35" fill="none" stroke="#000" stroke-width="1.5"/>
<line x1="325.9" y1="72.1" x2="325.7" y2="75.5" stroke="#000" stroke-width="1.1"/>
<circle cx="337.4" cy="73.7" r="3.0" fill="none" stroke="#000" stroke-width="1.25"/>
<circle cx="337.2" cy="73.8" r="1.35" fill="none" stroke="#000" stroke-width="1.5"/>
<line x1="338.6" y1="72.1" x2="338.4" y2="75.5" stroke="#000" stroke-width="1.1"/>
<path d="M348.9 62.2L348.1 68.6M351.1 62.2L350.3 68.6M347.2 64.4L352 64.4M347 66.6L351.8 66.6" stroke="#000" stroke-width="1.15" fill="none"/>
<path d="M360.5 62.2L359.7 68.6M362.7 62.2L361.9 68.6M358.8 64.4L363.6 64.4M358.6 66.6L363.4 66.6" stroke="#000" stroke-width="1.15" fill="none"/>
<polygon points="349.5,71.2 345.9,77.7 353.1,77.7" fill="#000"/>
<polygon points="361.3,71.2 357.7,77.7 364.9,77.7" fill="#000"/>
<polygon points="547.1,37.1 548.04,39.71 550.81,39.79 548.62,41.49 549.39,44.16 547.1,42.6 544.81,44.16 545.58,41.49 543.39,39.79 546.16,39.71" fill="#000"/>
<polygon points="558.1,37.1 559.04,39.71 561.81,39.79 559.62,41.49 560.39,44.16 558.1,42.6 555.81,44.16 556.58,41.49 554.39,39.79 557.16,39.71" fill="#000"/>
<polygon points="569.8,37.1 570.74,39.71 573.51,39.79 571.32,41.49 572.09,44.16 569.8,42.6 567.51,44.16 568.28,41.49 566.09,39.79 568.86,39.71" fill="#000"/>
<polygon points="582.1,37.1 583.04,39.71 585.81,39.79 583.62,41.49 584.39,44.16 582.1,42.6 579.81,44.16 580.58,41.49 578.39,39.79 581.16,39.71" fill="#000"/>
<polygon points="594.1,37.1 595.04,39.71 597.81,39.79 595.62,41.49 596.39,44.16 594.1,42.6 591.81,44.16 592.58,41.49 590.39,39.79 593.16,39.71" fill="#000"/>
<polygon points="624.2,37.1 625.14,39.71 627.91,39.79 625.72,41.49 626.49,44.16 624.2,42.6 621.91,44.16 622.68,41.49 620.49,39.79 623.26,39.71" fill="#000"/>
<polygon points="635.2,37.1 636.14,39.71 638.91,39.79 636.72,41.49 637.49,44.16 635.2,42.6 632.91,44.16 633.68,41.49 631.49,39.79 634.26,39.71" fill="#000"/>
<polygon points="647,37.1 647.94,39.71 650.71,39.79 648.52,41.49 649.29,44.16 647,42.6 644.71,44.16 645.48,41.49 643.29,39.79 646.06,39.71" fill="#000"/>
<polygon points="658.5,37.1 659.44,39.71 662.21,39.79 660.02,41.49 660.79,44.16 658.5,42.6 656.21,44.16 656.98,41.49 654.79,39.79 657.56,39.71" fill="#000"/>
<polygon points="669.6,37.1 670.54,39.71 673.31,39.79 671.12,41.49 671.89,44.16 669.6,42.6 667.31,44.16 668.08,41.49 665.89,39.79 668.66,39.71" fill="#000"/>
<polygon points="701.2,37.1 702.14,39.71 704.91,39.79 702.72,41.49 703.49,44.16 701.2,42.6 698.91,44.16 699.68,41.49 697.49,39.79 700.26,39.71" fill="#000"/>
<polygon points="711.7,37.1 712.64,39.71 715.41,39.79 713.22,41.49 713.99,44.16 711.7,42.6 709.41,44.16 710.18,41.49 707.99,39.79 710.76,39.71" fill="#000"/>
<polygon points="722.2,37.1 723.14,39.71 725.91,39.79 723.72,41.49 724.49,44.16 722.2,42.6 719.91,44.16 720.68,41.49 718.49,39.79 721.26,39.71" fill="#000"/>
<polygon points="735.4,37.1 736.34,39.71 739.11,39.79 736.92,41.49 737.69,44.16 735.4,42.6 733.11,44.16 733.88,41.49 731.69,39.79 734.46,39.71" fill="#000"/>
<polygon points="747.2,37.1 748.14,39.71 750.91,39.79 748.72,41.49 749.49,44.16 747.2,42.6 744.91,44.16 745.68,41.49 743.49,39.79 746.26,39.71" fill="#000"/>
<circle cx="558.4" cy="50.4" r="3.0" fill="none" stroke="#000" stroke-width="1.25"/>
<circle cx="558.2" cy="50.5" r="1.35" fill="none" stroke="#000" stroke-width="1.5"/>
<line x1="559.6" y1="48.8" x2="559.4" y2="52.2" stroke="#000" stroke-width="1.1"/>
<circle cx="570.5" cy="50.4" r="3.0" fill="none" stroke="#000" stroke-width="1.25"/>
<circle cx="570.3" cy="50.5" r="1.35" fill="none" stroke="#000" stroke-width="1.5"/>
<line x1="571.7" y1="48.8" x2="571.5" y2="52.2" stroke="#000" stroke-width="1.1"/>
<circle cx="582.5" cy="50.4" r="3.0" fill="none" stroke="#000" stroke-width="1.25"/>
<circle cx="582.3" cy="50.5" r="1.35" fill="none" stroke="#000" stroke-width="1.5"/>
<line x1="583.7" y1="48.8" x2="583.5" y2="52.2" stroke="#000" stroke-width="1.1"/>
<circle cx="594.4" cy="50.4" r="3.0" fill="none" stroke="#000" stroke-width="1.25"/>
<circle cx="594.2" cy="50.5" r="1.35" fill="none" stroke="#000" stroke-width="1.5"/>
<line x1="595.6" y1="48.8" x2="595.4" y2="52.2" stroke="#000" stroke-width="1.1"/>
<circle cx="635.5" cy="50.4" r="3.0" fill="none" stroke="#000" stroke-width="1.25"/>
<circle cx="635.3" cy="50.5" r="1.35" fill="none" stroke="#000" stroke-width="1.5"/>
<line x1="636.7" y1="48.8" x2="636.5" y2="52.2" stroke="#000" stroke-width="1.1"/>
<circle cx="647.5" cy="50.4" r="3.0" fill="none" stroke="#000" stroke-width="1.25"/>
<circle cx="647.3" cy="50.5" r="1.35" fill="none" stroke="#000" stroke-width="1.5"/>
<line x1="648.7" y1="48.8" x2="648.5" y2="52.2" stroke="#000" stroke-width="1.1"/>
<circle cx="659.2" cy="50.4" r="3.0" fill="none" stroke="#000" stroke-width="1.25"/>
<circle cx="659" cy="50.5" r="1.35" fill="none" stroke="#000" stroke-width="1.5"/>
<line x1="660.4" y1="48.8" x2="660.2" y2="52.2" stroke="#000" stroke-width="1.1"/>
<circle cx="670.2" cy="50.4" r="3.0" fill="none" stroke="#000" stroke-width="1.25"/>
<circle cx="670" cy="50.5" r="1.35" fill="none" stroke="#000" stroke-width="1.5"/>
<line x1="671.4" y1="48.8" x2="671.2" y2="52.2" stroke="#000" stroke-width="1.1"/>
<circle cx="712.6" cy="50.4" r="3.0" fill="none" stroke="#000" stroke-width="1.25"/>
<circle cx="712.4" cy="50.5" r="1.35" fill="none" stroke="#000" stroke-width="1.5"/>
<line x1="713.8" y1="48.8" x2="713.6" y2="52.2" stroke="#000" stroke-width="1.1"/>
<circle cx="723" cy="50.4" r="3.0" fill="none" stroke="#000" stroke-width="1.25"/>
<circle cx="722.8" cy="50.5" r="1.35" fill="none" stroke="#000" stroke-width="1.5"/>
<line x1="724.2" y1="48.8" x2="724" y2="52.2" stroke="#000" stroke-width="1.1"/>
<circle cx="735.4" cy="50.4" r="3.0" fill="none" stroke="#000" stroke-width="1.25"/>
<circle cx="735.2" cy="50.5" r="1.35" fill="none" stroke="#000" stroke-width="1.5"/>
<line x1="736.6" y1="48.8" x2="736.4" y2="52.2" stroke="#000" stroke-width="1.1"/>
<circle cx="747.7" cy="50.4" r="3.0" fill="none" stroke="#000" stroke-width="1.25"/>
<circle cx="747.5" cy="50.5" r="1.35" fill="none" stroke="#000" stroke-width="1.5"/>
<line x1="748.9" y1="48.8" x2="748.7" y2="52.2" stroke="#000" stroke-width="1.1"/>
<path d="M734.8 58.6L734 65M737 58.6L736.2 65M733.1 60.8L737.9 60.8M732.9 63L737.7 63" stroke="#000" stroke-width="1.15" fill="none"/>
<path d="M747.1 58.6L746.3 65M749.3 58.6L748.5 65M745.4 60.8L750.2 60.8M745.2 63L750 63" stroke="#000" stroke-width="1.15" fill="none"/>
<circle cx="159.4" cy="343.9" r="3.0" fill="none" stroke="#000" stroke-width="1.25"/>
<circle cx="159.2" cy="344" r="1.35" fill="none" stroke="#000" stroke-width="1.5"/>
<line x1="160.6" y1="342.3" x2="160.4" y2="345.7" stroke="#000" stroke-width="1.1"/>
<circle cx="221.1" cy="343.9" r="3.0" fill="none" stroke="#000" stroke-width="1.25"/>
<circle cx="220.9" cy="344" r="1.35" fill="none" stroke="#000" stroke-width="1.5"/>
<line x1="222.3" y1="342.3" x2="222.1" y2="345.7" stroke="#000" stroke-width="1.1"/>
<circle cx="284.7" cy="343.9" r="3.0" fill="none" stroke="#000" stroke-width="1.25"/>
<circle cx="284.5" cy="344" r="1.35" fill="none" stroke="#000" stroke-width="1.5"/>
<line x1="285.9" y1="342.3" x2="285.7" y2="345.7" stroke="#000" stroke-width="1.1"/>
<circle cx="346.3" cy="343.9" r="3.0" fill="none" stroke="#000" stroke-width="1.25"/>
<circle cx="346.1" cy="344" r="1.35" fill="none" stroke="#000" stroke-width="1.5"/>
<line x1="347.5" y1="342.3" x2="347.3" y2="345.7" stroke="#000" stroke-width="1.1"/>
<polygon points="284,356.1 280.2,363.3 287.8,363.3" fill="#000"/>
<polygon points="345.8,356.1 342,363.3 349.6,363.3" fill="#000"/>
<circle cx="545.5" cy="327.9" r="3.0" fill="none" stroke="#000" stroke-width="1.25"/>
<circle cx="545.3" cy="328" r="1.35" fill="none" stroke="#000" stroke-width="1.5"/>
<line x1="546.7" y1="326.3" x2="546.5" y2="329.7" stroke="#000" stroke-width="1.1"/>
<circle cx="611.7" cy="327.9" r="3.0" fill="none" stroke="#000" stroke-width="1.25"/>
<circle cx="611.5" cy="328" r="1.35" fill="none" stroke="#000" stroke-width="1.5"/>
<line x1="612.9" y1="326.3" x2="612.7" y2="329.7" stroke="#000" stroke-width="1.1"/>
<polygon points="675.6,324.5 671.9,331.3 679.3,331.3" fill="#000"/>
<polygon points="741.5,324.5 737.8,331.3 745.2,331.3" fill="#000"/>
<rect x="99.9" y="28.8" width="4.2" height="5.3" fill="url(#pC)" stroke="#000" stroke-width="1.8"/>
<text x="106.2" y="34.7" font-size="10.9" text-anchor="start" font-weight="normal">C</text>
<rect x="126.5" y="28.8" width="5.4" height="5.3" fill="url(#pS)" stroke="#000" stroke-width="1.8"/>
<text x="133.2" y="34.7" font-size="10.9" text-anchor="start" font-weight="normal">STZ</text>
<rect x="166.1" y="28.8" width="5" height="5.3" fill="url(#pD)" stroke="#000" stroke-width="1.8"/>
<text x="172.8" y="34.7" font-size="10.9" text-anchor="start" font-weight="normal">STZ+DOX</text>
<rect x="234.9" y="28.8" width="5.4" height="5.3" fill="url(#pB)" stroke="#000" stroke-width="1.8"/>
<text x="241.4" y="34.7" font-size="10.9" text-anchor="start" font-weight="normal">BM-MSCs</text>
<rect x="302.9" y="28.8" width="5.4" height="5.3" fill="url(#pA)" stroke="#000" stroke-width="1.8"/>
<text x="309.4" y="34.7" font-size="10.9" text-anchor="start" font-weight="normal">AT-MSCs</text>
<rect x="496.3" y="19.1" width="5.9" height="4.8" fill="url(#pC)" stroke="#000" stroke-width="1.8"/>
<text x="503.7" y="24.7" font-size="10.9" text-anchor="start" font-weight="normal">C</text>
<rect x="517.9" y="19.1" width="4.4" height="4.8" fill="url(#pS)" stroke="#000" stroke-width="1.8"/>
<text x="523.7" y="24.7" font-size="10.9" text-anchor="start" font-weight="normal">STZ</text>
<rect x="549.5" y="19.1" width="5.2" height="4.8" fill="url(#pD)" stroke="#000" stroke-width="1.8"/>
<text x="555.8" y="24.7" font-size="10.9" text-anchor="start" font-weight="normal">STZ+DOX</text>
<rect x="612.1" y="19.1" width="5.5" height="4.8" fill="url(#pB)" stroke="#000" stroke-width="1.8"/>
<text x="618.7" y="24.7" font-size="10.9" text-anchor="start" font-weight="normal">BM-MSCs</text>
<rect x="673.2" y="19.1" width="5.4" height="4.8" fill="url(#pA)" stroke="#000" stroke-width="1.8"/>
<text x="680" y="24.7" font-size="10.9" text-anchor="start" font-weight="normal">AT-MSCs</text>
<text x="15" y="28.6" font-size="19.5" text-anchor="start" font-weight="bold" letter-spacing="0.8">a)</text>
<text x="399.5" y="26.2" font-size="19.5" text-anchor="start" font-weight="bold" letter-spacing="0.6">b)</text>
<text x="11.6" y="311.5" font-size="19.5" text-anchor="start" font-weight="bold" letter-spacing="0.8">c)</text>
<text x="395" y="307.7" font-size="19.5" text-anchor="start" font-weight="bold" letter-spacing="0.6">d)</text>
<text x="0" y="0" font-size="13.1" text-anchor="middle" transform="translate(28.4 151.8) rotate(-90)">Blood glucose (mg/dL)</text>
<text x="0" y="0" font-size="13.3" text-anchor="middle" transform="translate(415 154.1) rotate(-90)">Body weight (grams)</text>
<text x="0" y="0" font-size="13.1" text-anchor="middle" transform="translate(29.8 427.7) rotate(-90)">Serum insulin (mcIU/mL)</text>
<text x="0" y="0" font-size="13.15" text-anchor="middle" transform="translate(406.6 433.05) rotate(-90)">Serum fibrinogen (mg/dL)</text>
<rect x="0" y="0" width="778" height="3" fill="#000"/>
<rect x="0" y="574" width="778" height="3" fill="#000"/>
<rect x="0" y="0" width="3" height="577" fill="#000"/>
<rect x="775" y="0" width="3" height="577" fill="#000"/>
<rect x="388" y="0" width="3" height="577" fill="#000"/>
<rect x="0" y="287" width="778" height="3" fill="#000"/></svg>
</body></html>
